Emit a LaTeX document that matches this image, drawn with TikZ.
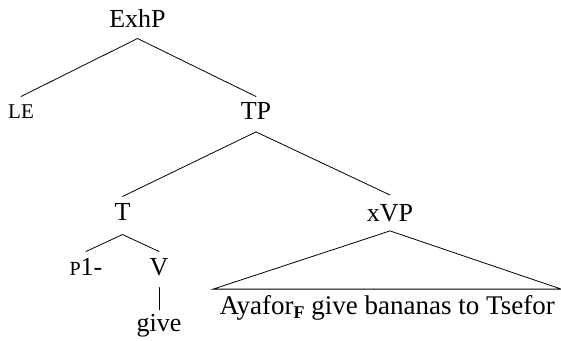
\documentclass[tikz,border=0pt]{standalone}
\usepackage{fontspec}
\setmainfont{Liberation Serif}
\begin{document}
\begin{tikzpicture}[x=1pt,y=-1pt,
  lab/.style={font=\fontsize{26}{30}\selectfont, anchor=base, inner xsep=0pt,
    inner ysep=3pt, text height=20pt, text depth=9pt},
  branch/.style={line width=0.8pt, line cap=round},
  smc/.style={font=\fontsize{19}{22}\selectfont}]
\useasboundingbox (0,0) rectangle (561,340);

% labels (positioned by baseline)
\node[lab, text depth=8.3pt] (exhp) at (137.5,27) {ExhP};
\node[lab, text height=18.3pt] (le) at (21,118) {{\fontsize{21}{24}\selectfont LE}};
\node[lab, text height=19.8pt, text depth=9.2pt] (tp) at (256,119.5) {TP};
\node[lab, text height=20.3pt, text depth=11.3pt] (t) at (122.5,220) {T};
\node[lab, text height=23.5pt, text depth=6pt] (xvp) at (390,221.7) {xVP};
\node[lab, text height=20.3pt] (p1) at (86,275) {{\fontsize{20}{22}\selectfont P}1-};
\node[lab, text height=20.3pt, text depth=9.3pt] (v) at (159,275) {V};
\node[lab, text height=18pt] (give) at (159,331) {give};
\node[lab, font=\fontsize{27}{30}\selectfont, text height=22pt, minimum width=347.7pt]
  (yield) at (387.2,314.3)
  {Ayafor\raisebox{-4.5pt}{\fontsize{18}{18}\selectfont\bfseries F} give bananas to Tsefor};

% branches
\draw[branch] (exhp.south) -- (le.north);
\draw[branch] (exhp.south) -- (tp.north);
\draw[branch] (tp.south) -- (t.north);
\draw[branch] (tp.south) -- (xvp.north);
\draw[branch] (t.south) -- (p1.north);
\draw[branch] (t.south) -- (v.north);
\draw[branch] (v.south) -- (give.north);
\draw[branch, line join=miter] (xvp.south) -- (yield.north west) -- (yield.north east) -- cycle;
\end{tikzpicture}
\end{document}
